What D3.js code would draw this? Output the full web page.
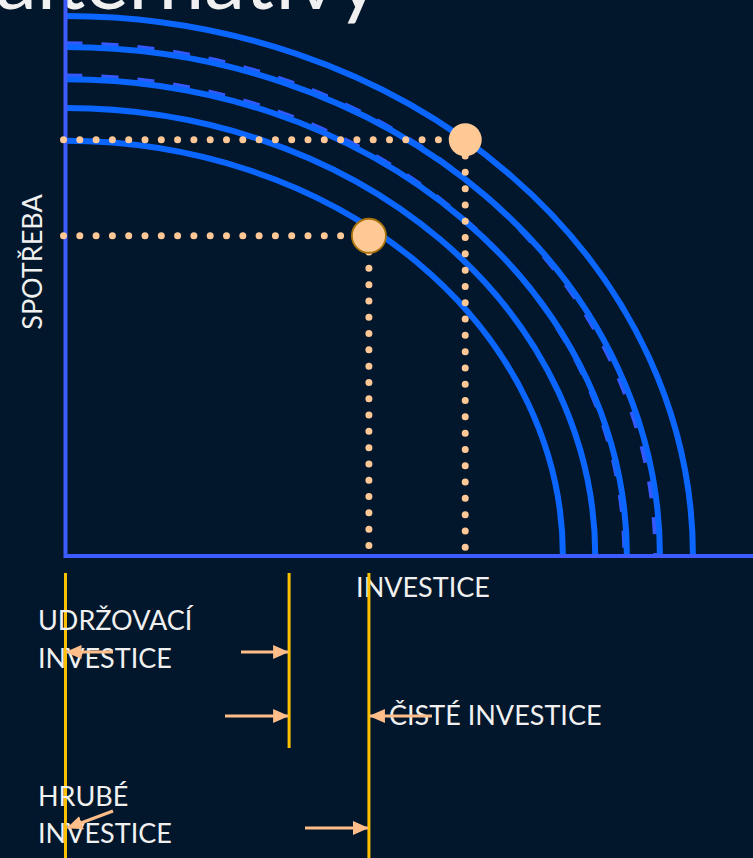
<!DOCTYPE html>
<html>
<head>
<meta charset="utf-8">
<script src="https://cdn.jsdelivr.net/npm/d3@7"></script>
<style>
  html, body { margin: 0; padding: 0; background: #02172b; }
  svg { display: block; }
  text { font-family: Lato, "Open Sans", sans-serif; }
</style>
</head>
<body>
<div id="chart"></div>
<script>
// ---------------- DATA ----------------
// Production possibility frontiers: intercepts on the investment (x) and consumption (y) axes
const curveNames = ["k1", "k2", "k3", "k4", "k5"];
const curveInvestment = [72.3, 77.0, 81.6, 86.4, 91.2];
const curveConsumption = [74.8, 80.7, 85.9, 91.7, 97.3];
// dashed shifted frontiers
const dashedInvestment = [85.8, 81.3];
const dashedConsumption = [92.3, 86.5];
// chosen combinations (investment, consumption)
const pointInvestment = [44.1, 58.1];
const pointConsumption = [57.7, 75.0];
// investment markers below the axis: origin, maintenance investment, gross investment
const markerInvestment = [0, 32.5, 44.1];

const titleText = "alternativy";
const xLabel = "INVESTICE";
const yLabel = "SPOTŘEBA";

// ---------------- LAYOUT ----------------
const W = 753, H = 858;
const svg = d3.select("#chart").append("svg").attr("width", W).attr("height", H);
svg.append("rect").attr("width", W).attr("height", H).attr("fill", "#02172b");

const x = d3.scaleLinear().domain([0, 100]).range([65.5, 753.5]);
const y = d3.scaleLinear().domain([0, 100]).range([556, 1]);

const blue = "#0a66ff";
const axisBlue = "#3d5cff";
const peach = "#ffc896";
const arrowPeach = "#ffbd8a";
const yellow = "#ffc000";
const white = "#f0f0f0";

// title (cut off at top, as in the original slide)
svg.append("text")
  .attr("x", -4).attr("y", 9)
  .attr("font-size", 82)
  .attr("font-weight", 400)
  .attr("fill", white)
  .text(titleText);

function arcPath(inv, cons) {
  const x0 = x(0), y0 = y(0);
  const xt = x(inv), yt = y(cons);
  const rx = xt - x0, ry = y0 - yt;
  return `M${x0},${yt} A${rx},${ry} 0 0 1 ${xt},${y0}`;
}

// dashed frontiers
svg.selectAll("path.dashed")
  .data(dashedInvestment.map((v, i) => [v, dashedConsumption[i]]))
  .join("path")
  .attr("class", "dashed")
  .attr("d", d => arcPath(d[0], d[1]))
  .attr("fill", "none")
  .attr("stroke", "#3558ff")
  .attr("stroke-width", 5)
  .attr("stroke-dasharray", "17 19");

// solid frontiers
svg.selectAll("path.frontier")
  .data(curveNames.map((n, i) => [curveInvestment[i], curveConsumption[i]]))
  .join("path")
  .attr("class", "frontier")
  .attr("d", d => arcPath(d[0], d[1]))
  .attr("fill", "none")
  .attr("stroke", blue)
  .attr("stroke-width", 6);

// axes
svg.append("line")
  .attr("x1", x(0)).attr("x2", x(0))
  .attr("y1", y(100) - 2).attr("y2", y(0) + 2)
  .attr("stroke", axisBlue).attr("stroke-width", 4);
svg.append("line")
  .attr("x1", x(0)).attr("x2", x(100))
  .attr("y1", y(0)).attr("y2", y(0))
  .attr("stroke", axisBlue).attr("stroke-width", 4);

// dotted guides
const pts = pointInvestment.map((v, i) => ({ inv: v, cons: pointConsumption[i] }));
pts.forEach(p => {
  svg.append("line")
    .attr("x1", x(0) - 2).attr("x2", x(p.inv))
    .attr("y1", y(p.cons)).attr("y2", y(p.cons))
    .attr("stroke", peach).attr("stroke-width", 7)
    .attr("stroke-linecap", "round")
    .attr("stroke-dasharray", "0 16.3");
  svg.append("line")
    .attr("x1", x(p.inv)).attr("x2", x(p.inv))
    .attr("y1", y(p.cons)).attr("y2", y(0))
    .attr("stroke", peach).attr("stroke-width", 7)
    .attr("stroke-linecap", "round")
    .attr("stroke-dasharray", "0 16.3");
});

// points
svg.selectAll("circle.pt")
  .data(pts)
  .join("circle")
  .attr("class", "pt")
  .attr("cx", d => x(d.inv))
  .attr("cy", d => y(d.cons))
  .attr("r", (d, i) => i === 0 ? 17 : 16.5)
  .attr("fill", "#ffc996")
  .attr("stroke", (d, i) => i === 0 ? "#a8740c" : "none")
  .attr("stroke-width", 1.8);

// axis labels
svg.append("text")
  .attr("x", 423).attr("y", 597)
  .attr("text-anchor", "middle")
  .attr("font-size", 27)
  .attr("fill", white)
  .text(xLabel);
svg.append("text")
  .attr("transform", "translate(42,262) rotate(-90)")
  .attr("text-anchor", "middle")
  .attr("font-size", 27)
  .attr("fill", white)
  .text(yLabel);

// yellow investment markers
const markerTop = [573, 573, 573];
const markerBottom = [858, 748, 858];
svg.selectAll("line.marker")
  .data(markerInvestment)
  .join("line")
  .attr("class", "marker")
  .attr("x1", d => x(d)).attr("x2", d => x(d))
  .attr("y1", (d, i) => markerTop[i]).attr("y2", (d, i) => markerBottom[i])
  .attr("stroke", yellow).attr("stroke-width", 3);

// annotation texts
const notes = [
  { t: "UDRŽOVACÍ", x: 38, y: 630 },
  { t: "INVESTICE", x: 38, y: 668 },
  { t: "ČISTÉ INVESTICE", x: 389, y: 725 },
  { t: "HRUBÉ", x: 38, y: 806 },
  { t: "INVESTICE", x: 38, y: 843 }
];
svg.selectAll("text.note")
  .data(notes)
  .join("text")
  .attr("class", "note")
  .attr("x", d => d.x).attr("y", d => d.y)
  .attr("font-size", 27)
  .attr("fill", white)
  .text(d => d.t);

// arrows
svg.append("defs").append("marker")
  .attr("id", "ah")
  .attr("viewBox", "0 0 16 16")
  .attr("refX", 15).attr("refY", 8)
  .attr("markerWidth", 16).attr("markerHeight", 16)
  .attr("markerUnits", "userSpaceOnUse")
  .attr("orient", "auto")
  .append("path")
  .attr("d", "M0,1 L16,8 L0,15 Z")
  .attr("fill", arrowPeach);

const arrows = [
  { x1: 113, y1: 652, x2: x(markerInvestment[0]) + 1, y2: 652 },
  { x1: 241, y1: 652, x2: x(markerInvestment[1]) - 1, y2: 652 },
  { x1: 225, y1: 716, x2: x(markerInvestment[1]) - 1, y2: 716 },
  { x1: 432, y1: 716, x2: x(markerInvestment[2]) + 1, y2: 716 },
  { x1: 113, y1: 811, x2: x(markerInvestment[0]) + 2, y2: 828 },
  { x1: 305, y1: 828, x2: x(markerInvestment[2]) - 1, y2: 828 }
];
svg.selectAll("line.arrow")
  .data(arrows)
  .join("line")
  .attr("class", "arrow")
  .attr("x1", d => d.x1).attr("y1", d => d.y1)
  .attr("x2", d => d.x2).attr("y2", d => d.y2)
  .attr("stroke", arrowPeach).attr("stroke-width", 3)
  .attr("marker-end", "url(#ah)");
</script>
</body>
</html>
